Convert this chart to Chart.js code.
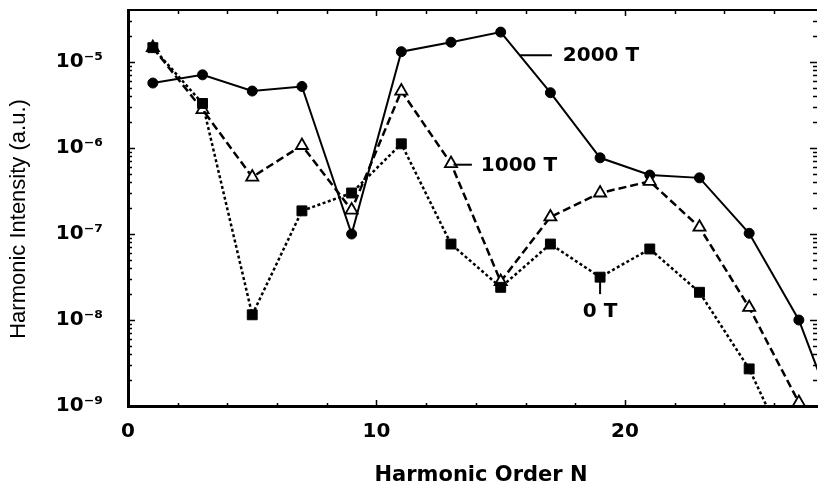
<!DOCTYPE html>
<html>
<head>
<meta charset="utf-8">
<script src="https://cdn.jsdelivr.net/npm/chart.js@4"></script>
<style>
  html, body { margin: 0; padding: 0; background: #fff; }
  canvas { display: block; }
</style>
</head>
<body>
<canvas id="harmonicChart" width="818" height="486"></canvas>
<script>
// values (log scale), harmonic orders 1..29
const harmonicOrder = [1, 3, 5, 7, 9, 11, 13, 15, 17, 19, 21, 23, 25, 27, 29];
const field2000T = [5.7e-6, 7.1e-6, 4.6e-6, 5.2e-6, 1.0e-7, 1.32e-5, 1.7e-5, 2.23e-5, 4.4e-6, 7.7e-7, 4.85e-7, 4.5e-7, 1.02e-7, 1.0e-8, 3e-10];
const field1000T = [1.47e-5, 2.8e-6, 4.6e-7, 1.07e-6, 1.9e-7, 4.6e-6, 6.6e-7, 2.8e-8, 1.58e-7, 3.0e-7, 4.1e-7, 1.2e-7, 1.4e-8, 1.1e-9, 1e-10];
const field0T = [1.47e-5, 3.3e-6, 1.15e-8, 1.86e-7, 3.0e-7, 1.12e-6, 7.65e-8, 2.4e-8, 7.65e-8, 3.15e-8, 6.7e-8, 2.1e-8, 2.7e-9, 1.6e-10, null];

const xTicks = [0, 10, 20];
const yTicks = [1e-9, 1e-8, 1e-7, 1e-6, 1e-5];
const yTickLabels = ['10\u207B\u2079', '10\u207B\u2078', '10\u207B\u2077', '10\u207B\u2076', '10\u207B\u2075'];

const xTitle = 'Harmonic Order N';
const yTitle = 'Harmonic Intensity (a.u.)';

const toPoints = vals => harmonicOrder.map((n, i) => ({ x: n, y: vals[i] }));

// frame ticks, axis titles and the curve labels
const framePlugin = {
  id: 'frame',
  afterDraw(chart) {
    const ctx = chart.ctx;
    const { left, right, top, bottom } = chart.chartArea;
    const xs = chart.scales.x;
    const ys = chart.scales.y;
    ctx.save();
    ctx.strokeStyle = '#000';
    ctx.fillStyle = '#000';

    // top border
    ctx.lineWidth = 2;
    ctx.beginPath();
    ctx.moveTo(left, top);
    ctx.lineTo(right, top);
    ctx.stroke();

    // x ticks every 2, inward on bottom and top
    ctx.lineWidth = 1.5;
    for (let n = 2; n < xs.max; n += 2) {
      const px = Math.round(xs.getPixelForValue(n)) + 0.5;
      const big = n % 10 === 0;
      ctx.beginPath();
      ctx.moveTo(px, bottom);
      ctx.lineTo(px, bottom - (big ? 6 : 3));
      ctx.moveTo(px, top);
      ctx.lineTo(px, top + (big ? 6 : 4));
      ctx.stroke();
    }

    // y ticks on left and right, decades longer
    for (let d = -9; d <= -5; d++) {
      for (let m = 1; m <= 9; m++) {
        const v = m * Math.pow(10, d);
        if (v > ys.max * 0.95) continue;
        const py = Math.round(ys.getPixelForValue(v)) + 0.5;
        const len = m === 1 ? 7 : 4;
        ctx.beginPath();
        ctx.moveTo(left, py);
        ctx.lineTo(left + len, py);
        ctx.moveTo(right, py);
        ctx.lineTo(right - len, py);
        ctx.stroke();
      }
    }

    // axis titles
    ctx.textAlign = 'center';
    ctx.textBaseline = 'middle';
    ctx.font = 'bold 21px "DejaVu Sans"';
    ctx.fillText(xTitle, 481, 476);
    ctx.save();
    ctx.translate(19, 219);
    ctx.rotate(-Math.PI / 2);
    ctx.font = '22px "Liberation Sans"';
    ctx.fillText(yTitle, 0, 0);
    ctx.restore();

    // curve labels with leader lines
    ctx.font = 'bold 20px "DejaVu Sans"';
    ctx.lineWidth = 2;
    const X = v => xs.getPixelForValue(v);
    const Y = v => ys.getPixelForValue(v);

    let y = Y(1.2e-5);
    ctx.beginPath();
    ctx.moveTo(X(15.77), y);
    ctx.lineTo(X(17.06), y);
    ctx.stroke();
    ctx.textAlign = 'left';
    ctx.fillText('2000 T', X(17.5), y + 1);

    y = Y(6.4e-7);
    ctx.beginPath();
    ctx.moveTo(X(13.1), y);
    ctx.lineTo(X(13.84), y);
    ctx.stroke();
    ctx.fillText('1000 T', X(14.2), y + 1);

    const x0 = X(19);
    ctx.beginPath();
    ctx.moveTo(x0, Y(3.15e-8));
    ctx.lineTo(x0, Y(2.0e-8));
    ctx.stroke();
    ctx.textAlign = 'center';
    ctx.fillText('0 T', x0, Y(1.24e-8));

    ctx.restore();
  }
};

const ctx = document.getElementById('harmonicChart').getContext('2d');
new Chart(ctx, {
  type: 'line',
  data: {
    datasets: [
      {
        label: '0 T',
        data: toPoints(field0T),
        borderColor: '#000',
        borderWidth: 2.5,
        borderDash: [3, 2.5],
        pointStyle: 'rect',
        pointRadius: 7,
        pointBackgroundColor: '#000',
        pointBorderColor: '#000',
        pointBorderWidth: 1
      },
      {
        label: '1000 T',
        data: toPoints(field1000T),
        borderColor: '#000',
        borderWidth: 2.5,
        borderDash: [8, 4],
        pointStyle: 'triangle',
        pointRadius: 7,
        pointBackgroundColor: '#fff',
        pointBorderColor: '#000',
        pointBorderWidth: 1.8
      },
      {
        label: '2000 T',
        data: toPoints(field2000T),
        borderColor: '#000',
        borderWidth: 2,
        pointStyle: 'circle',
        pointRadius: 5,
        pointBackgroundColor: '#000',
        pointBorderColor: '#000',
        pointBorderWidth: 1
      }
    ]
  },
  options: {
    responsive: false,
    animation: false,
    layout: { autoPadding: false, padding: { top: 10, right: 1, left: 0, bottom: 0 } },
    plugins: {
      legend: { display: false },
      tooltip: { enabled: false }
    },
    scales: {
      x: {
        type: 'linear',
        min: 0,
        max: 27.73,
        afterFit: s => { s.height = 80; s.paddingLeft = 0; s.paddingRight = 0; },
        afterBuildTicks: s => { s.ticks = xTicks.map(v => ({ value: v })); },
        grid: { display: false, drawTicks: false },
        border: { display: true, color: '#000', width: 3 },
        ticks: {
          padding: 14,
          maxRotation: 0,
          color: '#000',
          font: { family: 'DejaVu Sans', weight: 'bold', size: 20 }
        }
      },
      y: {
        type: 'logarithmic',
        min: 1e-9,
        max: 4.03e-5,
        afterFit: s => { s.width = 128; s.paddingTop = 0; s.paddingBottom = 0; },
        afterBuildTicks: s => { s.ticks = yTicks.map(v => ({ value: v })); },
        grid: { display: false, drawTicks: false },
        border: { display: true, color: '#000', width: 3 },
        ticks: {
          padding: 25,
          color: '#000',
          font: { family: 'DejaVu Sans', weight: 'bold', size: 20 },
          callback: (value, index) => yTickLabels[index]
        }
      }
    }
  },
  plugins: [framePlugin]
});
</script>
</body>
</html>
